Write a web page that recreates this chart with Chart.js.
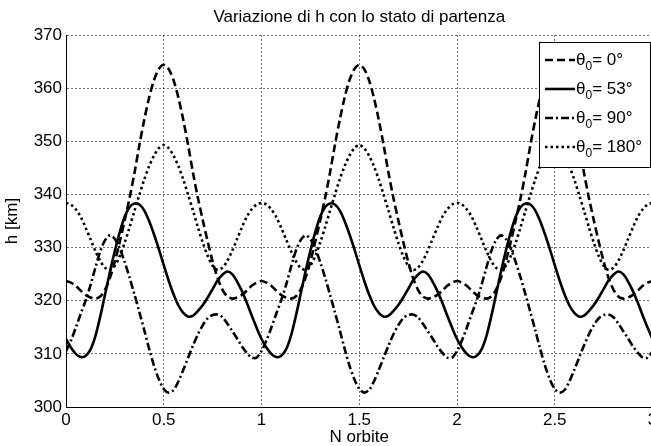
<!DOCTYPE html>
<html>
<head>
<meta charset="utf-8">
<script src="https://cdn.jsdelivr.net/npm/chart.js@4.4.1/dist/chart.umd.min.js"></script>
<style>
  html, body { margin: 0; padding: 0; background: #fff; overflow: hidden; }
  #wrap { width: 658px; height: 446px; }
</style>
</head>
<body>
<div id="wrap"><canvas id="chart" width="658" height="446"></canvas></div>
<script>
// N orbite, sampled every 0.025 orbits
const orbits = [
  0, 0.025, 0.05, 0.075, 0.1, 0.125, 0.15, 0.175, 0.2, 0.225, 0.25, 0.275, 0.3, 0.325, 0.35, 0.375, 0.4, 0.425, 0.45, 0.475,
  0.5, 0.525, 0.55, 0.575, 0.6, 0.625, 0.65, 0.675, 0.7, 0.725, 0.75, 0.775, 0.8, 0.825, 0.85, 0.875, 0.9, 0.925, 0.95, 0.975,
  1, 1.025, 1.05, 1.075, 1.1, 1.125, 1.15, 1.175, 1.2, 1.225, 1.25, 1.275, 1.3, 1.325, 1.35, 1.375, 1.4, 1.425, 1.45, 1.475,
  1.5, 1.525, 1.55, 1.575, 1.6, 1.625, 1.65, 1.675, 1.7, 1.725, 1.75, 1.775, 1.8, 1.825, 1.85, 1.875, 1.9, 1.925, 1.95, 1.975,
  2, 2.025, 2.05, 2.075, 2.1, 2.125, 2.15, 2.175, 2.2, 2.225, 2.25, 2.275, 2.3, 2.325, 2.35, 2.375, 2.4, 2.425, 2.45, 2.475,
  2.5, 2.525, 2.55, 2.575, 2.6, 2.625, 2.65, 2.675, 2.7, 2.725, 2.75, 2.775, 2.8, 2.825, 2.85, 2.875, 2.9, 2.925, 2.95, 2.975,
  3
]

// h [km] for each starting angle
const hTheta0 = [
  323.7, 323.4, 322.8, 321.9, 321.1, 320.6, 320.4, 320.8, 322.1, 324.3, 327.4, 331.1, 335.1, 339.3, 344.0, 349.2, 354.0, 358.2, 361.5, 363.6,
  364.4, 363.6, 361.5, 358.2, 354.0, 349.2, 344.0, 339.3, 335.1, 331.1, 327.4, 324.3, 322.1, 320.8, 320.4, 320.6, 321.1, 321.9, 322.8, 323.4,
  323.7, 323.4, 322.8, 321.9, 321.1, 320.6, 320.4, 320.8, 322.1, 324.3, 327.4, 331.1, 335.1, 339.3, 344.0, 349.2, 354.0, 358.2, 361.5, 363.6,
  364.4, 363.6, 361.5, 358.2, 354.0, 349.2, 344.0, 339.3, 335.1, 331.1, 327.4, 324.3, 322.1, 320.8, 320.4, 320.6, 321.1, 321.9, 322.8, 323.4,
  323.7, 323.4, 322.8, 321.9, 321.1, 320.6, 320.4, 320.8, 322.1, 324.3, 327.4, 331.1, 335.1, 339.3, 344.0, 349.2, 354.0, 358.2, 361.5, 363.6,
  364.4, 363.6, 361.5, 358.2, 354.0, 349.2, 344.0, 339.3, 335.1, 331.1, 327.4, 324.3, 322.1, 320.8, 320.4, 320.6, 321.1, 321.9, 322.8, 323.4,
  323.7
]
const hTheta53 = [
  312.8, 311.2, 310.0, 309.4, 309.6, 310.8, 313.3, 317.0, 321.2, 325.5, 329.4, 332.9, 335.8, 337.6, 338.3, 338.1, 337.0, 335.0, 332.5, 329.7,
  326.7, 323.8, 321.2, 319.1, 317.7, 317.0, 317.2, 318.1, 319.2, 320.6, 322.2, 323.8, 324.9, 325.5, 325.0, 323.6, 321.8, 319.6, 317.2, 314.9,
  312.8, 311.2, 310.0, 309.4, 309.6, 310.8, 313.3, 317.0, 321.2, 325.5, 329.4, 332.9, 335.8, 337.6, 338.3, 338.1, 337.0, 335.0, 332.5, 329.7,
  326.7, 323.8, 321.2, 319.1, 317.7, 317.0, 317.2, 318.1, 319.2, 320.6, 322.2, 323.8, 324.9, 325.5, 325.0, 323.6, 321.8, 319.6, 317.2, 314.9,
  312.8, 311.2, 310.0, 309.4, 309.6, 310.8, 313.3, 317.0, 321.2, 325.5, 329.4, 332.9, 335.8, 337.6, 338.3, 338.1, 337.0, 335.0, 332.5, 329.7,
  326.7, 323.8, 321.2, 319.1, 317.7, 317.0, 317.2, 318.1, 319.2, 320.6, 322.2, 323.8, 324.9, 325.5, 325.0, 323.6, 321.8, 319.6, 317.2, 314.9,
  312.8
]
const hTheta90 = [
  310.5, 312.5, 314.9, 317.5, 320.0, 322.9, 326.2, 329.3, 331.4, 332.3, 331.6, 329.8, 327.3, 324.4, 321.2, 317.9, 314.5, 311.0, 307.8, 305.2,
  303.4, 302.7, 303.2, 304.8, 307.0, 309.3, 311.6, 313.7, 315.4, 316.7, 317.3, 317.4, 316.9, 315.7, 314.3, 312.9, 311.4, 310.2, 309.3, 309.3,
  310.5, 312.5, 314.9, 317.5, 320.0, 322.9, 326.2, 329.3, 331.4, 332.3, 331.6, 329.8, 327.3, 324.4, 321.2, 317.9, 314.5, 311.0, 307.8, 305.2,
  303.4, 302.7, 303.2, 304.8, 307.0, 309.3, 311.6, 313.7, 315.4, 316.7, 317.3, 317.4, 316.9, 315.7, 314.3, 312.9, 311.4, 310.2, 309.3, 309.3,
  310.5, 312.5, 314.9, 317.5, 320.0, 322.9, 326.2, 329.3, 331.4, 332.3, 331.6, 329.8, 327.3, 324.4, 321.2, 317.9, 314.5, 311.0, 307.8, 305.2,
  303.4, 302.7, 303.2, 304.8, 307.0, 309.3, 311.6, 313.7, 315.4, 316.7, 317.3, 317.4, 316.9, 315.7, 314.3, 312.9, 311.4, 310.2, 309.3, 309.3,
  310.5
]
const hTheta180 = [
  338.4, 338.1, 337.2, 335.8, 333.8, 331.6, 329.4, 327.5, 326.2, 325.8, 326.6, 328.4, 330.9, 333.8, 336.9, 339.9, 342.8, 345.3, 347.3, 348.7,
  349.3, 348.7, 347.3, 345.3, 342.8, 339.9, 336.9, 333.8, 330.9, 328.4, 326.6, 325.8, 326.2, 327.5, 329.4, 331.6, 333.8, 335.8, 337.2, 338.1,
  338.4, 338.1, 337.2, 335.8, 333.8, 331.6, 329.4, 327.5, 326.2, 325.8, 326.6, 328.4, 330.9, 333.8, 336.9, 339.9, 342.8, 345.3, 347.3, 348.7,
  349.3, 348.7, 347.3, 345.3, 342.8, 339.9, 336.9, 333.8, 330.9, 328.4, 326.6, 325.8, 326.2, 327.5, 329.4, 331.6, 333.8, 335.8, 337.2, 338.1,
  338.4, 338.1, 337.2, 335.8, 333.8, 331.6, 329.4, 327.5, 326.2, 325.8, 326.6, 328.4, 330.9, 333.8, 336.9, 339.9, 342.8, 345.3, 347.3, 348.7,
  349.3, 348.7, 347.3, 345.3, 342.8, 339.9, 336.9, 333.8, 330.9, 328.4, 326.6, 325.8, 326.2, 327.5, 329.4, 331.6, 333.8, 335.8, 337.2, 338.1,
  338.4
]

const legendAngles = ["0°", "53°", "90°", "180°"]
const FONT = '"Liberation Sans", Arial, Helvetica, sans-serif'

const toPoints = (ys) => orbits.map((x, i) => ({ x: x, y: ys[i] }))

const series = (values, dash) => ({
  data: toPoints(values),
  borderColor: "#000",
  borderWidth: 2.6,
  borderDash: dash,
  pointRadius: 0,
  tension: 0.3,
  fill: false
})

// legend box in the top right corner, theta with a subscript 0
const thetaLegend = {
  id: "thetaLegend",
  afterDatasetsDraw(chart) {
    const { ctx, chartArea } = chart
    const boxW = 111, boxH = 125
    const x0 = Math.round(chartArea.right - 3 - boxW)
    const y0 = Math.round(chartArea.top + 7)
    ctx.save()
    ctx.fillStyle = "#fff"
    ctx.fillRect(x0, y0, boxW, boxH)
    ctx.setLineDash([])
    ctx.lineWidth = 1
    ctx.strokeStyle = "#000"
    ctx.strokeRect(x0 + 0.5, y0 + 0.5, boxW, boxH)

    chart.data.datasets.forEach((ds, i) => {
      const y = y0 + 18 + i * 29
      ctx.beginPath()
      ctx.setLineDash(ds.borderDash)
      ctx.lineWidth = ds.borderWidth
      ctx.moveTo(x0 + 6, y)
      ctx.lineTo(x0 + 36, y)
      ctx.stroke()
      ctx.setLineDash([])

      ctx.fillStyle = "#000"
      ctx.textAlign = "left"
      ctx.textBaseline = "middle"
      let tx = x0 + 37
      ctx.font = "17px " + FONT
      ctx.fillText("θ", tx, y)
      tx += ctx.measureText("θ").width
      ctx.font = "12px " + FONT
      ctx.fillText("0", tx, y + 7)
      tx += ctx.measureText("0").width
      ctx.font = "17px " + FONT
      ctx.fillText("= " + legendAngles[i], tx, y)
    })
    ctx.restore()
  }
}

const gridStyle = { color: "rgba(0,0,0,0.55)", lineWidth: 1, drawTicks: false }
const borderStyle = { display: true, color: "#000", width: 1, dash: [2, 2] }

new Chart(document.getElementById("chart"), {
  type: "line",
  data: {
    datasets: [
      series(hTheta0, [8, 4]),
      series(hTheta53, []),
      series(hTheta90, [8, 3, 2, 3]),
      series(hTheta180, [2.5, 3])
    ]
  },
  options: {
    responsive: false,
    animation: false,
    devicePixelRatio: 1,
    layout: { padding: { left: 0, right: 5.5, top: 0, bottom: 0 } },
    plugins: {
      legend: { display: false },
      tooltip: { enabled: false },
      title: {
        display: true,
        text: "Variazione di h con lo stato di partenza",
        fullSize: false,
        color: "#000",
        font: { family: FONT, size: 17, weight: "normal" },
        padding: { top: 7, bottom: 7.6 }
      }
    },
    scales: {
      x: {
        type: "linear",
        min: 0,
        max: 3,
        grid: gridStyle,
        border: borderStyle,
        ticks: {
          stepSize: 0.5,
          autoSkip: false,
          maxRotation: 0,
          padding: 3,
          color: "#000",
          font: { family: FONT, size: 17 },
          callback: (v) => String(v)
        },
        title: {
          display: true,
          text: "N orbite",
          color: "#000",
          font: { family: FONT, size: 17 },
          padding: { top: -2, bottom: -2 }
        },
        afterFit(scale) {
          // fixed axis band; the "3" label is allowed to run past the edge
          scale.height = 39
          scale.paddingLeft = 0
          scale.paddingRight = 0
        }
      },
      y: {
        min: 300,
        max: 370,
        grid: gridStyle,
        border: borderStyle,
        ticks: {
          stepSize: 10,
          padding: 4,
          color: "#000",
          font: { family: FONT, size: 17 }
        },
        title: {
          display: true,
          text: "h [km]",
          color: "#000",
          font: { family: FONT, size: 17 },
          padding: { top: 2, bottom: 0 }
        },
        afterFit(scale) {
          scale.width = 66
          scale.paddingTop = 0
          scale.paddingBottom = 0
        }
      }
    }
  },
  plugins: [thetaLegend]
})
</script>
</body>
</html>
